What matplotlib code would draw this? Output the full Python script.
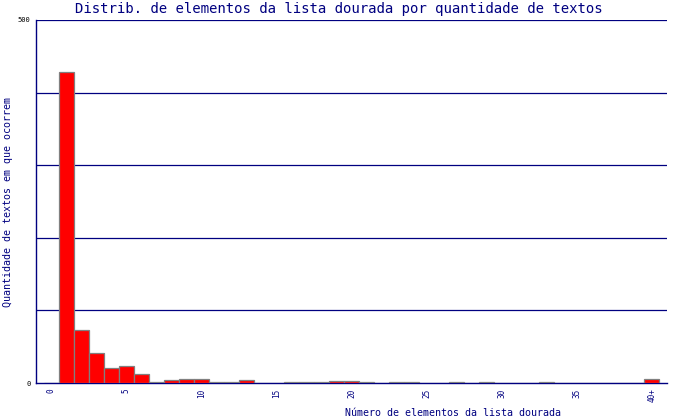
import matplotlib
matplotlib.use("Agg")
import matplotlib.pyplot as plt

# number of gold-list elements per text (0..39, then 40+)
categories = [str(i) for i in range(40)] + ["40+"]
counts = [0, 428, 73, 41, 20, 23, 12, 1, 4, 6,
          6, 1, 1, 4, 0, 0, 1, 1, 1, 3,
          3, 1, 0, 1, 1, 0, 0, 1, 0, 1,
          0, 0, 0, 1, 0, 0, 0, 0, 0, 0,
          6]
tick_labels = {0: "0", 5: "5", 10: "10", 15: "15", 20: "20",
               25: "25", 30: "30", 35: "35", 40: "40+"}

navy = "#000080"
mono = "DejaVu Sans Mono"

fig = plt.figure(figsize=(7, 4.2), dpi=100)
ax = fig.add_axes([36 / 700, 37 / 420, 631 / 700, 363 / 420])

x = list(range(len(categories)))
ax.bar(x, counts, width=1.0, color="#ff0000", edgecolor="#808080",
       linewidth=0.9, zorder=3)

ax.set_xlim(-1, len(categories))
ax.set_ylim(0, 500)

for y in [100, 200, 300, 400, 500]:
    ax.axhline(y, color=navy, linewidth=0.9, zorder=1)

for s in ["top", "right"]:
    ax.spines[s].set_visible(False)
for s in ["left", "bottom"]:
    ax.spines[s].set_color(navy)
    ax.spines[s].set_linewidth(1.0)

ax.set_yticks([0, 500])
ax.set_yticklabels(["0", "500"], fontsize=5, family=mono, color="black")
ax.set_xticks(list(tick_labels.keys()))
ax.set_xticklabels(list(tick_labels.values()), rotation=90, fontsize=5.5,
                   family=mono, color=navy)
ax.tick_params(axis="both", length=0, pad=4)

fig.text(339 / 700, 1 - 9 / 420, "Distrib. de elementos da lista dourada por quantidade de textos",
         ha="center", va="center", fontsize=10.1, family=mono, color=navy)
fig.text(453 / 700, 1 - 413 / 420, "Número de elementos da lista dourada",
         ha="center", va="center", fontsize=7.2, family=mono, color=navy)
fig.text(8 / 700, 1 - 202 / 420, "Quantidade de textos em que ocorrem",
         ha="center", va="center", rotation=90, fontsize=7.2, family=mono, color=navy)

fig.savefig("out.png", dpi=100)
